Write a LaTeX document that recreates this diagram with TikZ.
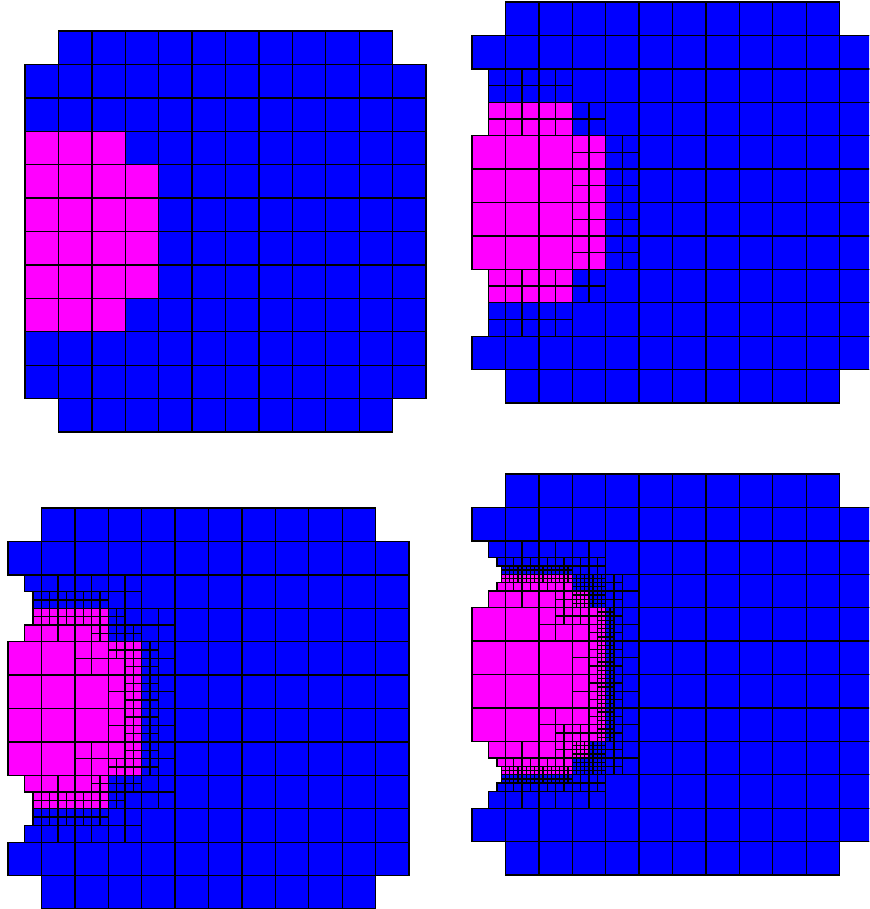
\documentclass[tikz,border=0pt]{standalone}
\definecolor{pblue}{RGB}{0,0,255}
\definecolor{pmag}{RGB}{255,0,255}
\tikzset{cellline/.style={draw=black,line width=1.35pt}}
\newcommand\cellfills[1]{%
  \foreach \qx/\qy/\qw/\qh/\qc/\qs in #1 {\fill[\qc] (\qx,\qy) rectangle ++(\qw,\qh);}}
\newcommand\celllines[1]{%
  \foreach \qx/\qy/\qw/\qh/\qc/\qs in #1 {%
    \pgfmathsetmacro\qxe{\qx+\qw}\pgfmathsetmacro\qye{\qy+\qh}%
    \draw[cellline,step=\qs] (\qx,\qy) grid (\qxe,\qye);
    \draw[cellline] (\qx,\qy) rectangle (\qxe,\qye);}}
\newcommand\drawpanel[3]{%
  \begin{scope}[shift={(#1,-#2)},x=33.42pt,y=33.42pt,yscale=-1]
    \cellfills{#3}
    \begin{scope}[shift={(0,12)},yscale=-1]\cellfills{#3}\end{scope}
    \celllines{#3}
    \begin{scope}[shift={(0,12)},yscale=-1]\celllines{#3}\end{scope}
  \end{scope}}
\def\panelA{1/0/10/1/pblue/1, 0/1/12/5/pblue/1, 0/3/3/1/pmag/1, 0/4/4/2/pmag/1}
\def\panelB{1/0/10/1/pblue/1, 0/1/12/1/pblue/1, 0.5/2/2.5/1/pblue/0.5, 3/2/9/1/pblue/1,
  0.5/3/2.5/1/pmag/0.5, 3/3/1/1/pblue/0.5, 4/3/8/1/pblue/1,
  0/4/3/2/pmag/1, 3/4/1/2/pmag/0.5, 4/4/1/2/pblue/0.5, 5/4/7/2/pblue/1}
\def\panelC{1/0/10/1/pblue/1, 0/1/12/1/pblue/1,
  0.5/2/3.5/0.5/pblue/0.5, 0.75/2.5/2.25/0.5/pblue/0.25, 3/2.5/1/0.5/pblue/0.5, 4/2/8/1/pblue/1,
  0.75/3/2.25/0.5/pmag/0.25, 3/3/0.5/0.5/pblue/0.25, 3.5/3/0.5/0.5/pblue/0.5,
  0.5/3.5/2/0.5/pmag/0.5, 2.5/3.5/0.5/0.5/pmag/0.25, 3/3.5/1/0.5/pblue/0.25,
  4/3/1/1/pblue/0.5, 5/3/7/1/pblue/1,
  0/4/2/2/pmag/1, 2/4/1/1/pmag/0.5, 3/4/1/0.5/pmag/0.25,
  3/4.5/0.5/0.5/pmag/0.5, 3.5/4.5/0.5/0.5/pmag/0.25,
  4/4/0.5/2/pblue/0.25, 4.5/4/0.5/2/pblue/0.5,
  2/5/1/1/pmag/1, 3/5/0.5/1/pmag/0.5, 3.5/5/0.5/1/pmag/0.25, 5/4/7/2/pblue/1}
\def\panelD{1/0/10/1/pblue/1, 0/1/12/1/pblue/1,
  0.5/2/3.5/0.5/pblue/0.5, 0.75/2.5/2.25/0.25/pblue/0.25, 0.875/2.75/2.125/0.25/pblue/0.125,
  3/2.5/1/0.5/pblue/0.25, 4/2/8/1/pblue/1,
  0.875/3/2.125/0.25/pmag/0.125, 0.75/3.25/2.25/0.25/pmag/0.25,
  0.5/3.5/2/0.5/pmag/0.5, 2.5/3.5/0.5/0.5/pmag/0.25,
  3/3/1/1/pblue/0.125, 3/3.5/0.5/0.5/pmag/0.125,
  4/3/0.5/1/pblue/0.25, 4.5/3/0.5/1/pblue/0.5, 5/3/7/1/pblue/1,
  0/4/2/2/pmag/1, 2/4/0.5/1/pmag/0.5, 2.5/4/0.5/0.5/pmag/0.25,
  2.5/4.5/0.5/0.5/pmag/0.5, 2/5/1/1/pmag/1,
  3/4/0.5/0.5/pmag/0.25, 3/4.5/0.5/1.5/pmag/0.5,
  3.5/4/0.25/2/pmag/0.25, 3.75/4/0.25/2/pmag/0.125,
  4/4/0.25/2/pblue/0.125, 4.25/4/0.25/2/pblue/0.25, 4.5/4/0.5/2/pblue/0.5, 5/4/7/2/pblue/1}
\begin{document}
\begin{tikzpicture}[x=1pt,y=1pt]
\useasboundingbox (0,0) rectangle (869,-909);
\fill[white] (0,0) rectangle (869,-909);
\clip (0,0) rectangle (869,-909);
\drawpanel{25}{31}{\panelA}
\drawpanel{472}{2}{\panelB}
\drawpanel{8}{508}{\panelC}
\drawpanel{472}{474}{\panelD}
\end{tikzpicture}
\end{document}
